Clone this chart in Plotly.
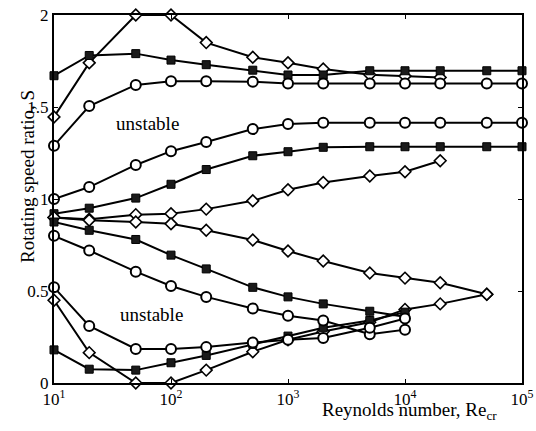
import plotly.graph_objects as go

# Reynolds numbers (x positions)
re_all = [10, 20, 50, 100, 200, 500, 1000, 2000, 5000, 10000, 20000, 50000, 100000]

# ---- Upper unstable region boundaries ----
dia_up_top = [1.446, 1.74, 2.0, 2.0, 1.85, 1.77, 1.74, 1.707, 1.675, 1.668, 1.661]
dia_up_bot = [0.90, 0.89, 0.915, 0.92, 0.945, 0.99, 1.05, 1.09, 1.125, 1.148, 1.208]
sq_up_top = [1.67, 1.78, 1.79, 1.755, 1.73, 1.70, 1.674, 1.674, 1.697, 1.697, 1.697, 1.697, 1.697]
sq_up_bot = [0.92, 0.95, 1.005, 1.08, 1.16, 1.235, 1.257, 1.281, 1.284, 1.284, 1.284, 1.284, 1.284]
ci_up_top = [1.29, 1.505, 1.62, 1.64, 1.64, 1.637, 1.628, 1.628, 1.628, 1.628, 1.628, 1.628, 1.628]
ci_up_bot = [1.0, 1.065, 1.185, 1.26, 1.31, 1.38, 1.408, 1.415, 1.415, 1.415, 1.415, 1.415, 1.415]

# ---- Lower unstable region boundaries ----
dia_lo_top = [0.90, 0.885, 0.875, 0.865, 0.83, 0.777, 0.717, 0.663, 0.598, 0.57, 0.545, 0.482]
dia_lo_bot = [0.45, 0.165, 0.0, 0.0, 0.07, 0.17, 0.235, 0.28, 0.33, 0.40, 0.43, 0.482]
sq_lo_top = [0.875, 0.83, 0.78, 0.695, 0.62, 0.52, 0.468, 0.43, 0.39, 0.36]
sq_lo_bot = [0.18, 0.075, 0.07, 0.11, 0.15, 0.21, 0.255, 0.30, 0.34, 0.385]
ci_lo_top = [0.80, 0.72, 0.605, 0.527, 0.468, 0.405, 0.365, 0.34, 0.265, 0.29]
ci_lo_bot = [0.52, 0.31, 0.185, 0.185, 0.195, 0.22, 0.235, 0.245, 0.30, 0.35]

x_ticks = [10, 100, 1000, 10000, 100000]
x_tick_text = ["10<sup>1</sup>", "10<sup>2</sup>", "10<sup>3</sup>", "10<sup>4</sup>", "10<sup>5</sup>"]
y_ticks = [0, 0.5, 1, 1.5, 2]
y_tick_text = ["0", "0.5", "1", "1.5", "2"]

FONT = "Liberation Serif"

markers = {
    "diamond": dict(symbol="diamond", size=9, color="white", line=dict(color="black", width=1.6)),
    "square": dict(symbol="square", size=8, color="#1a1a1a", line=dict(color="black", width=1)),
    "circle": dict(symbol="circle", size=10, color="white", line=dict(color="black", width=2)),
}

fig = go.Figure()

def add(xs, ys, kind):
    fig.add_trace(go.Scatter(
        x=xs, y=ys, mode="lines+markers",
        line=dict(color="black", width=2),
        marker=markers[kind], cliponaxis=False, showlegend=False,
    ))

def loop(top, bot):
    n = len(top)
    xs = re_all[:n] + re_all[:n][::-1]
    ys = top + bot[::-1]
    return xs, ys

# upper region curves
add(re_all[:len(dia_up_top)], dia_up_top, "diamond")
add(re_all[:len(dia_up_bot)], dia_up_bot, "diamond")
add(re_all[:len(sq_up_top)], sq_up_top, "square")
add(re_all[:len(sq_up_bot)], sq_up_bot, "square")
add(re_all[:len(ci_up_top)], ci_up_top, "circle")
add(re_all[:len(ci_up_bot)], ci_up_bot, "circle")

# lower region loops
for top, bot, kind in [(dia_lo_top, dia_lo_bot, "diamond"),
                       (sq_lo_top, sq_lo_bot, "square"),
                       (ci_lo_top, ci_lo_bot, "circle")]:
    xs, ys = loop(top, bot)
    add(xs, ys, kind)

fig.update_layout(
    width=536, height=431,
    margin=dict(l=54, r=14, t=15, b=48),
    paper_bgcolor="white", plot_bgcolor="white",
    font=dict(family=FONT, size=17, color="black"),
    xaxis=dict(
        type="log", range=[1, 5], tickvals=x_ticks, ticktext=x_tick_text,
        automargin=False,
        showgrid=False, zeroline=False,
        showline=True, linecolor="black", linewidth=2, mirror="ticks",
        ticks="inside", ticklen=4, tickwidth=1, tickcolor="black",
        tickfont=dict(family=FONT, size=17),
    ),
    yaxis=dict(
        range=[0, 2], tickvals=y_ticks, ticktext=y_tick_text,
        automargin=False,
        showgrid=False, zeroline=False,
        showline=True, linecolor="black", linewidth=2, mirror="ticks",
        ticks="inside", ticklen=4, tickwidth=1, tickcolor="black",
        tickfont=dict(family=FONT, size=17),
    ),
    annotations=[
        dict(text="unstable", x=1.803, y=1.41, xref="x", yref="y", showarrow=False,
             font=dict(family=FONT, size=19)),
        dict(text="unstable", x=1.83, y=0.37, xref="x", yref="y", showarrow=False,
             font=dict(family=FONT, size=19)),
        dict(text="Rotating speed ratio, S", x=-0.0577, y=0.5625, xref="paper", yref="paper",
             textangle=-90, showarrow=False, xanchor="center", yanchor="middle",
             font=dict(family=FONT, size=19)),
        dict(text="Reynolds number, Re<sub>cr</sub>", x=0.76, y=-0.075, xref="paper", yref="paper",
             showarrow=False, xanchor="center", yanchor="middle",
             font=dict(family=FONT, size=19)),
    ],
)

fig.write_html("out.html")
